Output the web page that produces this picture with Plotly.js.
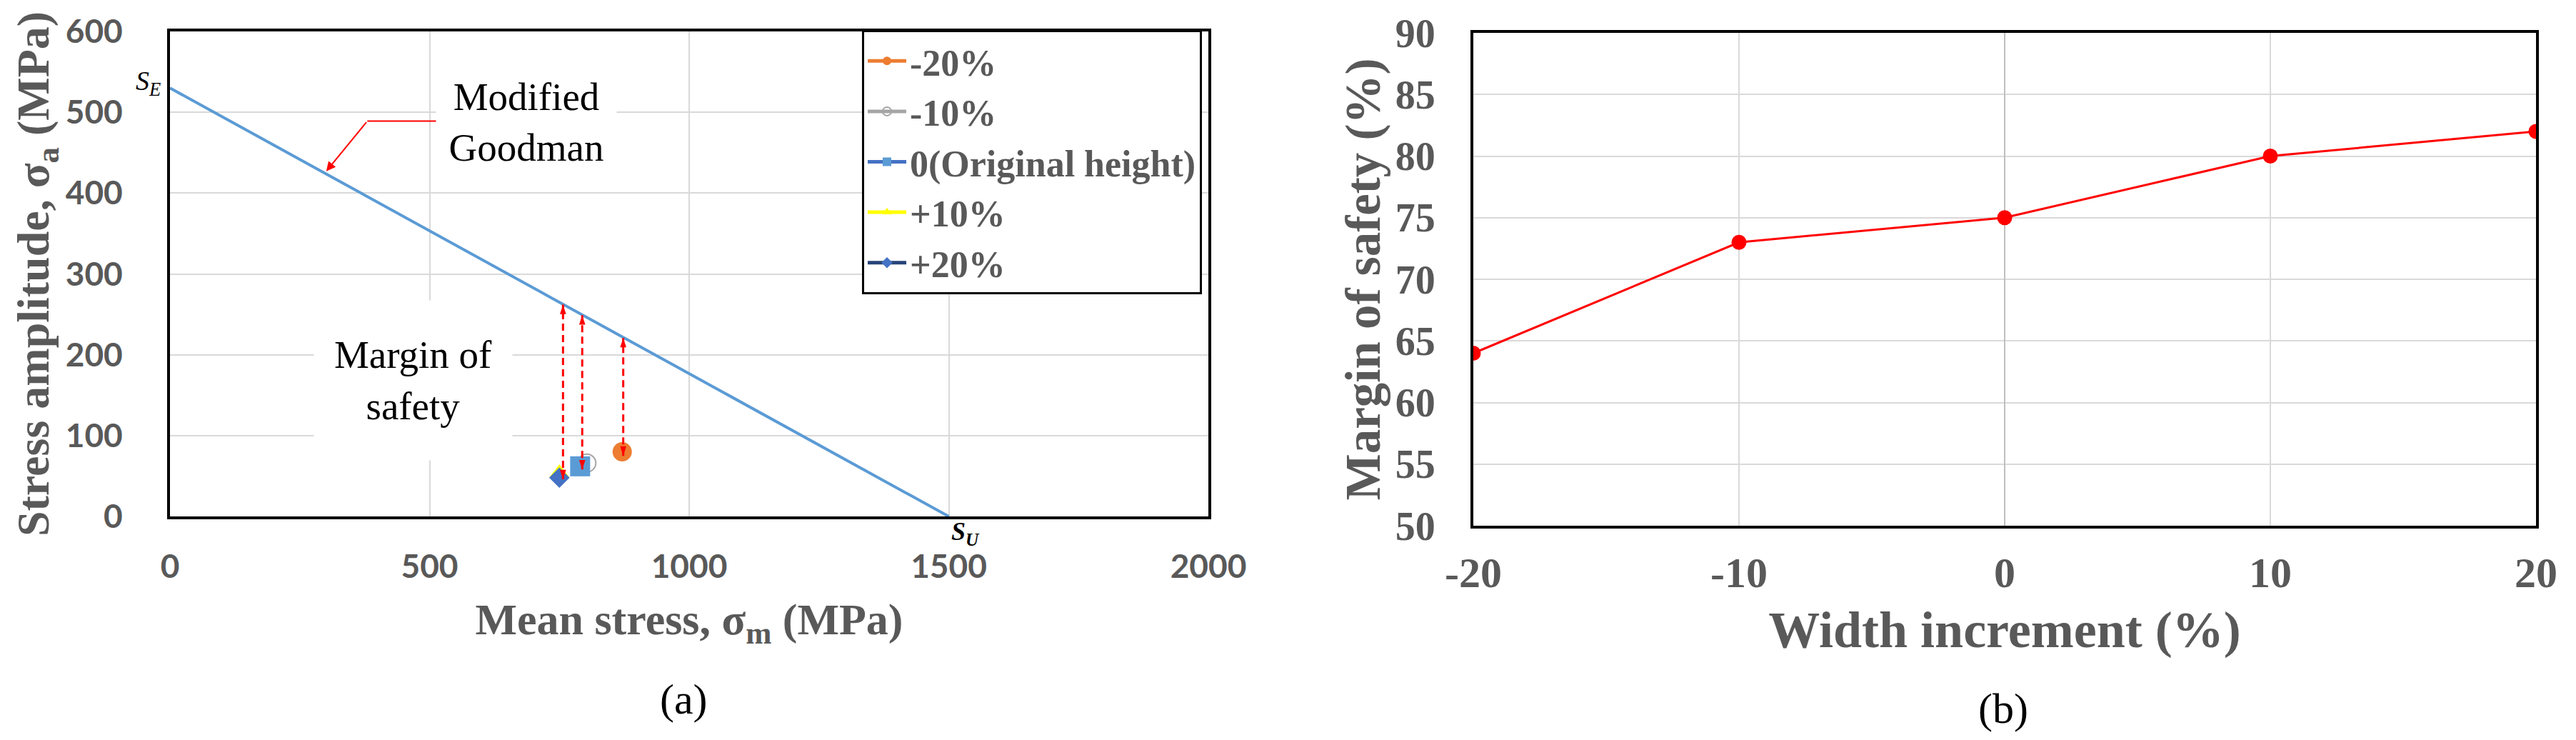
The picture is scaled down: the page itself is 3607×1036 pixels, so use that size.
<!DOCTYPE html>
<html><head><meta charset="utf-8">
<script src="https://cdn.plot.ly/plotly-3.0.1.min.js"></script>
<style>html,body{margin:0;padding:0;background:#fff}#chart{width:3607px;height:1036px}</style>
</head><body><div id="chart"></div>
<script>
// ---------- Panel (a): Goodman diagram ----------
const seriesNames = ['-20%', '-10%', '0(Original height)', '+10%', '+20%'];
const meanStress = [871, 803, 790, 750, 750];      // sigma_m (MPa)
const stressAmp = [80, 66, 62, 54, 48];            // sigma_a (MPa)
const goodmanMean = [0, 1500];                     // S_E at 0, S_U at 1500
const goodmanAmp = [530, 0];
const arrowMean = [757, 794, 873];
const arrowLow = [46, 58, 75];
const arrowHigh = [262, 249, 221];
const xTicksA = [0, 500, 1000, 1500, 2000];
const yTicksA = [0, 100, 200, 300, 400, 500, 600];
// ---------- Panel (b): margin of safety ----------
const widthIncrement = [-20, -10, 0, 10, 20];
const marginSafety = [64, 73, 75, 80, 82];
const xTicksB = [-20, -10, 0, 10, 20];
const xTickTextB = ['-20', '-10', '0', '10', '20'];
const yTicksB = [50, 55, 60, 65, 70, 75, 80, 85, 90];

// ---------- styles ----------
const lineColors = ['#ED7D31', '#A5A5A5', '#4472C4', '#FFFF00', '#264478'];
const markerColors = ['#ED7D31', '#A5A5A5', '#5B9BD5', '#FFFF00', '#4472C4'];
const symbols = ['circle', 'circle-open', 'square', 'triangle-up', 'diamond'];
const msizes = [27, 25, 28, 24, 22];

const W = 3607, H = 1036;
const px = v => v / W, py = v => 1 - v / H;
const GREY = '#595959';
const SERIF = 'Liberation Serif, Times New Roman, serif';
const SANS = 'Lato, Open Sans, sans-serif';

const traces = [];
traces.push({
  x: goodmanMean, y: goodmanAmp, xaxis: 'x', yaxis: 'y', mode: 'lines',
  line: {color: '#5B9BD5', width: 4}, showlegend: false, hoverinfo: 'skip'
});
seriesNames.forEach((nm, i) => {
  traces.push({
    x: [meanStress[i]], y: [stressAmp[i]], xaxis: 'x', yaxis: 'y',
    name: nm, legendrank: i + 1, mode: 'lines+markers',
    line: {color: lineColors[i], width: 3},
    marker: {symbol: symbols[i], size: msizes[i], color: markerColors[i],
             line: {color: markerColors[i], width: symbols[i] === 'circle-open' ? 2 : 0}}
  });
});
const ax = [], ay = [], hx = [], hy = [], ang = [];
arrowMean.forEach((m, i) => {
  ax.push(m, m, null); ay.push(arrowLow[i], arrowHigh[i], null);
  hx.push(m, m); hy.push(arrowLow[i], arrowHigh[i]); ang.push(180, 0);
});
traces.push({x: ax, y: ay, xaxis: 'x', yaxis: 'y', mode: 'lines', showlegend: false,
  line: {color: '#FF0000', width: 3, dash: '10px,6px'}, hoverinfo: 'skip'});
traces.push({x: hx, y: hy, xaxis: 'x', yaxis: 'y', mode: 'markers', showlegend: false,
  marker: {symbol: 'arrow', angle: ang, size: 14, color: '#FF0000'}, hoverinfo: 'skip'});
traces.push({
  x: widthIncrement, y: marginSafety, xaxis: 'x2', yaxis: 'y2', mode: 'lines+markers',
  showlegend: false, line: {color: '#FF0000', width: 3},
  marker: {color: '#FF0000', size: 21}
});

const axisCommon = {
  showline: true, mirror: true, linecolor: '#000', linewidth: 4,
  showgrid: true, gridcolor: '#D9D9D9', gridwidth: 2, zeroline: false,
  ticks: '', fixedrange: true
};

const ann = (x, y, text, size, extra) => Object.assign({
  xref: 'paper', yref: 'paper', x: px(x), y: py(y), xanchor: 'center', yanchor: 'middle',
  text: text, showarrow: false, font: {family: SERIF, size: size, color: '#000'}
}, extra || {});

const layout = {
  width: W, height: H, margin: {l: 0, r: 0, t: 0, b: 0},
  paper_bgcolor: '#fff', plot_bgcolor: '#fff', hovermode: false,
  showlegend: true,
  legend: {
    x: px(1207), y: py(42), xanchor: 'left', yanchor: 'top',
    bgcolor: '#fff', bordercolor: '#000', borderwidth: 3,
    font: {family: SERIF, size: 52, color: GREY, weight: 'bold'},
    itemsizing: 'constant', itemwidth: 54, tracegroupgap: 0
  },
  xaxis: Object.assign({}, axisCommon, {
    domain: [px(238), px(1692)], range: [0, 2000], tickvals: xTicksA,
    ticklabelstandoff: 27, anchor: 'y',
    tickfont: {family: SANS, size: 46, color: GREY, weight: 'bold'},
    title: {text: 'Mean stress, σ<sub>m</sub> (MPa)', standoff: 27,
      font: {family: SERIF, size: 62, color: GREY, weight: 'bold'}}
  }),
  yaxis: Object.assign({}, axisCommon, {
    domain: [py(723), py(44)], range: [0, 600], tickvals: yTicksA,
    ticklabelstandoff: 53, anchor: 'x',
    tickfont: {family: SANS, size: 46, color: GREY, weight: 'bold'},
    title: {text: 'Stress amplitude, σ<sub>a</sub> (MPa)', standoff: 0,
      font: {family: SERIF, size: 64, color: GREY, weight: 'bold'}}
  }),
  xaxis2: Object.assign({}, axisCommon, {
    domain: [px(2063), px(3551)], range: [-20, 20], tickvals: xTicksB, ticktext: xTickTextB,
    ticklabelstandoff: 10, anchor: 'y2',
    zeroline: true, zerolinecolor: '#BFBFBF', zerolinewidth: 2,
    tickfont: {family: SERIF, size: 60, color: GREY, weight: 'bold'},
    title: {text: 'Width increment (%)', standoff: 23,
      font: {family: SERIF, size: 72, color: GREY, weight: 'bold'}}
  }),
  yaxis2: Object.assign({}, axisCommon, {
    domain: [py(736), py(46)], range: [50, 90], tickvals: yTicksB,
    ticklabelstandoff: 38, anchor: 'x2',
    tickfont: {family: SERIF, size: 56, color: GREY, weight: 'bold'},
    title: {text: 'Margin of safety (%)', standoff: 0,
      font: {family: SERIF, size: 69, color: GREY, weight: 'bold'}}
  }),
  shapes: [
    {type: 'line', xref: 'x', yref: 'y', x0: 380, y0: 489, x1: 513, y1: 489,
     line: {color: '#FF0000', width: 2}}
  ],
  annotations: [
    {xref: 'x', yref: 'y', x: 301, y: 427, ax: 380, ay: 489, axref: 'x', ayref: 'y',
     text: '', showarrow: true, arrowhead: 2, arrowsize: 1.3, arrowwidth: 2, arrowcolor: '#FF0000'},
    {xref: 'x', yref: 'y', x: 686, y: 488, xanchor: 'center', yanchor: 'middle',
     text: 'Modified<br>Goodman', showarrow: false,
     bgcolor: '#fff', width: 250, height: 150,
     font: {family: SERIF, size: 55, color: '#000'}},
    {xref: 'x', yref: 'y', x: 468, y: 168, xanchor: 'center', yanchor: 'middle',
     text: 'Margin of<br>safety', showarrow: false,
     bgcolor: '#fff', width: 275, height: 221,
     font: {family: SERIF, size: 55, color: '#000'}},
    ann(207, 116, '<i>S</i><sub><i>E</i></sub>', 38),
    ann(1352, 746, '<b><i>S</i></b><sub><b><i>U</i></b></sub>', 36),
    ann(957, 979, '(a)', 60),
    ann(2805, 992, '(b)', 60)
  ]
};

Plotly.newPlot('chart', traces, layout, {displayModeBar: false, staticPlot: true});
</script>
</body></html>
